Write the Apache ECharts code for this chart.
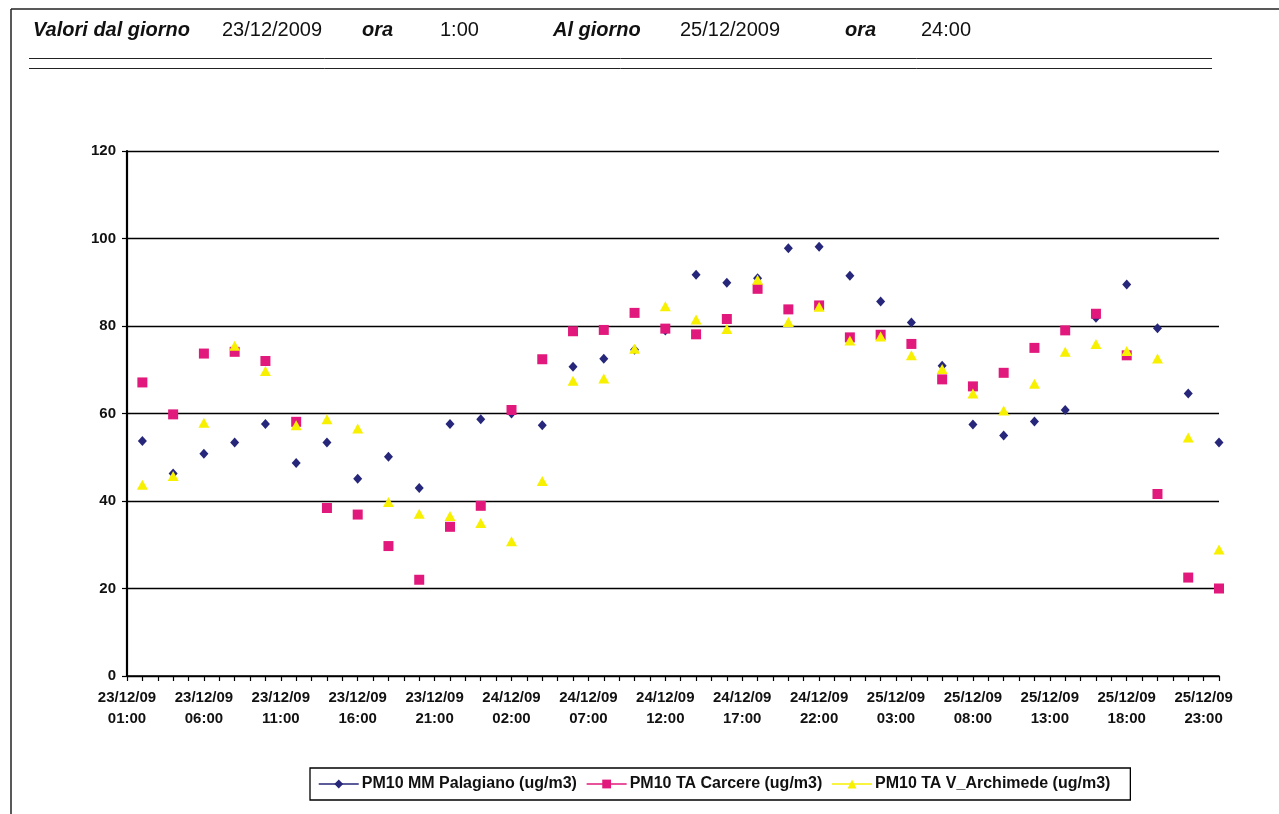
<!DOCTYPE html>
<html>
<head>
<meta charset="utf-8">
<title>PM10 23/12/2009 - 25/12/2009</title>
<script src="https://cdn.jsdelivr.net/npm/echarts@6/dist/echarts.min.js"></script>
<style>
  html, body { margin: 0; padding: 0; background: #ffffff; }
  #chart { width: 1279px; height: 814px; }
</style>
</head>
<body>
<div id="chart"></div>
<script>
// Hourly category axis: three days, 01:00 .. 24:00
const days = ['23/12/09', '24/12/09', '25/12/09'];
const hours = ['01:00', '02:00', '03:00', '04:00', '05:00', '06:00', '07:00', '08:00',
  '09:00', '10:00', '11:00', '12:00', '13:00', '14:00', '15:00', '16:00',
  '17:00', '18:00', '19:00', '20:00', '21:00', '22:00', '23:00', '24:00'];
// Measurements are available every two hours
const sampleHours = ['02:00', '04:00', '06:00', '08:00', '10:00', '12:00',
  '14:00', '16:00', '18:00', '20:00', '22:00', '24:00'];

// PM10 concentrations (ug/m3), one value per sample time
const palagiano = [53.7, 46.3, 50.8, 53.4, 57.6, 48.7, 53.4, 45.1, 50.1, 43.0, 57.6, 58.7,
  60.0, 57.3, 70.7, 72.5, 74.6, 79.0, 91.7, 89.9, 90.9, 97.8, 98.1, 91.5,
  85.6, 80.8, 70.9, 57.5, 55.0, 58.2, 60.8, 81.9, 89.5, 79.5, 64.6, 53.4];
const carcere = [67.1, 59.8, 73.7, 74.1, 72.0, 58.1, 38.4, 36.9, 29.7, 22.0, 34.1, 38.9,
  60.8, 72.4, 78.8, 79.1, 83.0, 79.4, 78.1, 81.6, 88.5, 83.8, 84.7, 77.4,
  78.0, 75.9, 67.8, 66.2, 69.3, 75.0, 79.0, 82.8, 73.3, 41.6, 22.5, 20.0];
const archimede = [43.7, 45.7, 57.9, 75.5, 69.7, 57.3, 58.7, 56.6, 39.8, 37.1, 36.6, 35.0,
  30.8, 44.6, 67.5, 68.0, 74.8, 84.5, 81.5, 79.3, 90.6, 80.9, 84.4, 76.7,
  77.6, 73.3, 70.2, 64.6, 60.7, 66.8, 74.1, 75.9, 74.3, 72.6, 54.5, 28.9];

const seriesNames = ['PM10 MM Palagiano (ug/m3)', 'PM10 TA Carcere (ug/m3)', 'PM10 TA V_Archimede (ug/m3)'];
const yTicks = [0, 20, 40, 60, 80, 100, 120];

const categories = [];
days.forEach(d => hours.forEach(h => categories.push(d + '\n' + h)));
const sampleTimes = [];
days.forEach(d => sampleHours.forEach(h => sampleTimes.push(d + '\n' + h)));

const pairs = values => sampleTimes.map((t, i) => [t, values[i]]);

const FONT = '"Liberation Sans", Arial, sans-serif';
const BLUE = '#26267a';
const PINK = '#e2197c';
const YELLOW = '#f7f000';

function markerSeries(name, values, symbol, size, color) {
  return {
    name: name,
    type: 'line',
    data: pairs(values),
    symbol: symbol,
    symbolSize: size,
    showSymbol: true,
    showAllSymbol: true,
    itemStyle: { color: color },
    lineStyle: { color: color, opacity: 0 },
    emphasis: { disabled: true },
    silent: true
  };
}

const headerItems = [
  { text: 'Valori dal giorno', x: 33, bold: true },
  { text: '23/12/2009', x: 222, bold: false },
  { text: 'ora', x: 362, bold: true },
  { text: '1:00', x: 440, bold: false },
  { text: 'Al giorno', x: 553, bold: true },
  { text: '25/12/2009', x: 680, bold: false },
  { text: 'ora', x: 845, bold: true },
  { text: '24:00', x: 921, bold: false }
];

const graphics = headerItems.map(h => ({
  type: 'text',
  silent: true,
  style: {
    text: h.text,
    x: h.x,
    y: 30,
    verticalAlign: 'middle',
    fill: '#111',
    font: (h.bold ? 'italic bold ' : 'normal ') + '20px ' + FONT
  }
}));
// page frame and header rules
graphics.push(
  { type: 'line', silent: true, shape: { x1: 11, y1: 9, x2: 1279, y2: 9 }, style: { stroke: '#222', lineWidth: 1.5 } },
  { type: 'line', silent: true, shape: { x1: 11, y1: 9, x2: 11, y2: 814 }, style: { stroke: '#222', lineWidth: 1.5 } },
  { type: 'line', silent: true, shape: { x1: 29, y1: 58.5, x2: 1212, y2: 58.5 }, style: { stroke: '#222', lineWidth: 1 } },
  { type: 'line', silent: true, shape: { x1: 29, y1: 68.5, x2: 1212, y2: 68.5 }, style: { stroke: '#222', lineWidth: 1 } }
);

const chart = echarts.init(document.getElementById('chart'), null, { renderer: 'canvas' });
chart.setOption({
  backgroundColor: '#ffffff',
  animation: false,
  textStyle: { fontFamily: FONT },
  graphic: graphics,
  grid: { left: 127, right: 60, top: 151, bottom: 138, containLabel: false },
  xAxis: {
    type: 'category',
    data: categories,
    boundaryGap: false,
    axisLine: { lineStyle: { color: '#000', width: 1.5 } },
    axisTick: { show: true, interval: 0, length: 5, lineStyle: { color: '#000', width: 1.2 } },
    axisLabel: {
      interval: 4,
      margin: 11,
      color: '#111',
      fontSize: 15,
      fontWeight: 'bold',
      lineHeight: 21,
      fontFamily: FONT
    },
    splitLine: { show: false }
  },
  yAxis: {
    type: 'value',
    min: yTicks[0],
    max: yTicks[yTicks.length - 1],
    interval: 20,
    axisLine: { show: true, lineStyle: { color: '#000', width: 2.2 } },
    axisTick: { show: true, length: 5, lineStyle: { color: '#000', width: 1.2 } },
    axisLabel: { margin: 11, color: '#111', fontSize: 15, fontWeight: 'bold', fontFamily: FONT },
    splitLine: { show: true, lineStyle: { color: '#000', width: 1.3 } }
  },
  legend: {
    left: 310,
    top: 768,
    orient: 'horizontal',
    padding: [8, 20, 8, 8],
    itemGap: 9,
    itemWidth: 40,
    itemHeight: 11,
    borderColor: '#000',
    borderWidth: 1.3,
    selectedMode: false,
    lineStyle: { opacity: 1, width: 1.5 },
    textStyle: { fontSize: 16, fontWeight: 'bold', color: '#111', fontFamily: FONT, padding: [0, 0, 0, -2] },
    data: seriesNames
  },
  series: [
    markerSeries(seriesNames[0], palagiano, 'diamond', [9, 10], BLUE),
    markerSeries(seriesNames[1], carcere, 'rect', 10, PINK),
    markerSeries(seriesNames[2], archimede, 'triangle', [11, 10], YELLOW)
  ]
});
</script>
</body>
</html>
